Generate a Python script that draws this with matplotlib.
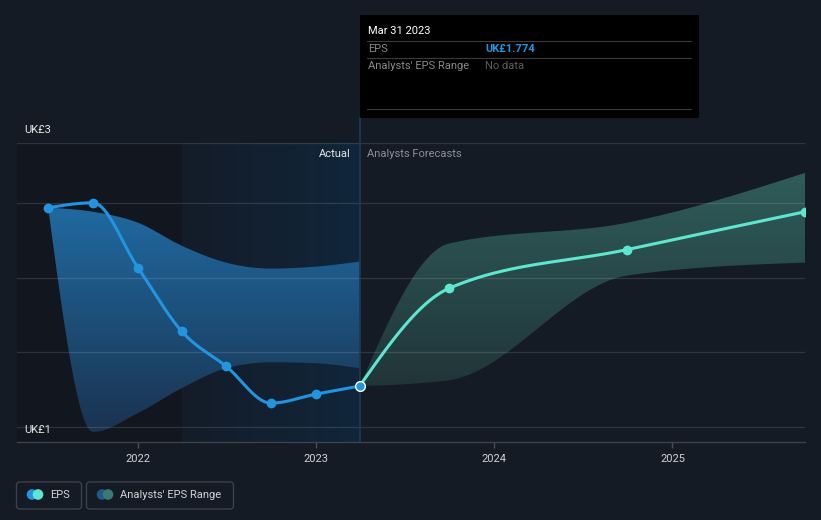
import numpy as np
import pandas as pd
import matplotlib
matplotlib.use("Agg")
import matplotlib.pyplot as plt
import matplotlib.dates as mdates
from matplotlib.patches import Rectangle, FancyBboxPatch, Circle
from matplotlib.lines import Line2D
from matplotlib.transforms import IdentityTransform

plt.rcParams['font.family'] = ['Roboto', 'DejaVu Sans']

# data
past_dates = ["2021-06-30", "2021-09-30", "2021-12-31", "2022-03-31",
              "2022-06-30", "2022-09-30", "2022-12-31", "2023-03-31"]
past_eps = [2.967, 3.0, 2.567, 2.14, 1.907, 1.66, 1.72, 1.774]
past_high = [2.967, 2.94, 2.867, 2.713, 2.6, 2.56, 2.573, 2.607]
past_low = [2.967, 1.467, 1.593, 1.76, 1.893, 1.933, 1.927, 1.893]

fc_dates = ["2023-03-31", "2023-09-30", "2024-09-30", "2025-09-30"]
fc_eps = [1.774, 2.427, 2.687, 2.94]
fc_high = [1.774, 2.727, 2.867, 3.2]
fc_low = [1.774, 1.813, 2.513, 2.6]

year_ticks = ["2022", "2023", "2024", "2025"]
grid_vals = [1.5, 2.0, 2.5, 3.0]

BG = "#151b24"
BLUE = "#2394df"
TEAL = "#5ee6d0"
W, H = 821, 520


def monotone(x, y, n=60):
    # monotone cubic curve (like d3 curveMonotoneX)
    x = np.asarray(x, float)
    y = np.asarray(y, float)
    h = np.diff(x)
    s = np.diff(y) / h
    m = np.zeros_like(y)
    for i in range(1, len(y) - 1):
        p = (s[i - 1] * h[i] + s[i] * h[i - 1]) / (h[i - 1] + h[i])
        m[i] = (np.sign(s[i - 1]) + np.sign(s[i])) * min(abs(s[i - 1]), abs(s[i]), 0.5 * abs(p))
    m[0] = (3 * s[0] - m[1]) / 2
    m[-1] = (3 * s[-1] - m[-2]) / 2
    xs, ys = [], []
    for i in range(len(h)):
        t = np.linspace(0, 1, n)
        h00 = 2 * t**3 - 3 * t**2 + 1
        h10 = t**3 - 2 * t**2 + t
        h01 = -2 * t**3 + 3 * t**2
        h11 = t**3 - t**2
        xs.append(x[i] + t * h[i])
        ys.append(h00 * y[i] + h10 * h[i] * m[i] + h01 * y[i + 1] + h11 * h[i] * m[i + 1])
    return np.concatenate(xs), np.concatenate(ys)


def grad_band(ax, x, lo, hi, c_top, c_bot, z):
    xs, ys_hi = monotone(x, hi)
    _, ys_lo = monotone(x, lo)
    poly = ax.fill_between(xs, ys_lo, ys_hi, facecolor="none", edgecolor="none")
    top = np.array(matplotlib.colors.to_rgb(c_top))
    bot = np.array(matplotlib.colors.to_rgb(c_bot))
    f = np.linspace(0, 1, 256)[:, None]
    img = (top * (1 - f) + bot * f)[:, None, :]
    im = ax.imshow(img, extent=[xs.min(), xs.max(), ys_lo.min(), ys_hi.max()],
                   aspect="auto", origin="upper", zorder=z, interpolation="bilinear")
    im.set_clip_path(poly.get_paths()[0], transform=ax.transData)


px = mdates.date2num(pd.to_datetime(past_dates))
fx = mdates.date2num(pd.to_datetime(fc_dates))
x0 = mdates.date2num(pd.Timestamp("2021-04-27"))
x1 = fx[-1]

fig = plt.figure(figsize=(W / 100, H / 100), dpi=100, facecolor=BG)
ax = fig.add_axes([17 / W, 78 / H, 788 / W, 299 / H])
ax.set_facecolor("none")

# background regions
ax.axvspan(x0, px[3], color="#12161e", zorder=0, lw=0)
hl = np.zeros((1, 256, 3))
left_c = np.array(matplotlib.colors.to_rgb("#141c28"))
right_c = np.array(matplotlib.colors.to_rgb("#10263b"))
f = np.linspace(0, 1, 256)[:, None]
hl[0] = left_c * (1 - f) + right_c * f
ax.imshow(hl, extent=[px[3], px[-1], 1.4, 3.4], aspect="auto", zorder=0,
          interpolation="bilinear")

# analyst ranges
grad_band(ax, px, past_low, past_high, "#2069a0", "#1a3350", 1)
grad_band(ax, fx, fc_low, fc_high, "#2f5c5a", "#213539", 1)

for g in grid_vals + [3.4]:
    ax.axhline(g, color="#ffffff", alpha=0.12, lw=0.9, zorder=2)

# divider at last actual point, reaching up to the tooltip
ax.plot([px[-1], px[-1]], [1.4, 3.567], color="#1e3a56", lw=1.2, zorder=2, clip_on=False)

# EPS lines
lx, ly = monotone(px, past_eps)
ax.plot(lx, ly, color=BLUE, lw=2.2, zorder=4, solid_capstyle="round")
ax.plot(px, past_eps, "o", color=BLUE, ms=6, zorder=5)
lx, ly = monotone(fx, fc_eps)
ax.plot(lx, ly, color=TEAL, lw=2.2, zorder=4, solid_capstyle="round")
ax.plot(fx[1:], fc_eps[1:], "o", color=TEAL, ms=6, zorder=5)
ax.plot(px[-1], past_eps[-1], "o", color=BLUE, ms=7, mec="white", mew=1, zorder=6)

ax.set_xlim(x0, x1)
ax.set_ylim(1.4, 3.4)
for sp in ["top", "left", "right"]:
    ax.spines[sp].set_visible(False)
ax.spines["bottom"].set_color("#3d424b")
ax.spines["bottom"].set_linewidth(1)
ax.set_yticks([])
ax.set_xticks(mdates.date2num(pd.to_datetime([y + "-01-01" for y in year_ticks])))
ax.set_xticklabels(year_ticks)
ax.tick_params(axis="x", colors="#4a4f58", length=4, width=1, labelcolor="#d0d3d8",
               labelsize=8, pad=5)

T = IdentityTransform()


def ftext(x, y, s, **kw):
    fig.text(x, H - y, s, transform=T, **kw)


ftext(24, 130, "UK£3", color="#e8e8e8", fontsize=8, va="center")
ftext(24, 430, "UK£1", color="#e8e8e8", fontsize=8, va="center", zorder=10)
ftext(351, 154, "Actual", color="#e6e6e6", fontsize=8, va="center", ha="right")
ftext(367, 154, "Analysts Forecasts", color="#8a8f98", fontsize=8, va="center")

# tooltip
fig.add_artist(Rectangle((360, H - 118), 339, 103, transform=T, facecolor="black",
                         edgecolor="none", zorder=20))
for yy in [41, 58, 109]:
    fig.add_artist(Line2D([367, 691], [H - yy, H - yy], transform=T, color="#3a3a3a",
                          lw=0.8, zorder=21))
ftext(368, 31, "Mar 31 2023", color="white", fontsize=8, va="center", zorder=22)
ftext(368, 49, "EPS", color="#8a8a8a", fontsize=8, va="center", zorder=22)
ftext(485, 49, "UK£1.774", color=BLUE, fontsize=8, va="center", weight="bold", zorder=22)
ftext(368, 66, "Analysts' EPS Range", color="#8a8a8a", fontsize=8, va="center", zorder=22)
ftext(485, 66, "No data", color="#5e5e5e", fontsize=8, va="center", zorder=22)

# legend
legend_items = [("EPS", 16.5, 65, BLUE, TEAL), ("Analysts' EPS Range", 86.5, 147, "#1f5a8a", "#3a7a75")]
for label, bx, bw, c1, c2 in legend_items:
    fig.add_artist(FancyBboxPatch((bx, H - 509), bw, 27, transform=T,
                                  boxstyle="round,pad=0,rounding_size=3",
                                  facecolor="none", edgecolor="#3b414b", lw=1))
    fig.add_artist(Circle((bx + 15.5, H - 494.5), 4.6, transform=T, color=c1))
    fig.add_artist(Circle((bx + 21.5, H - 494.5), 4.6, transform=T, color=c2))
    ftext(bx + 33.5, 495, label, color="#d0d3d8", fontsize=8, va="center")

fig.savefig("out.png", dpi=100, facecolor=BG)
